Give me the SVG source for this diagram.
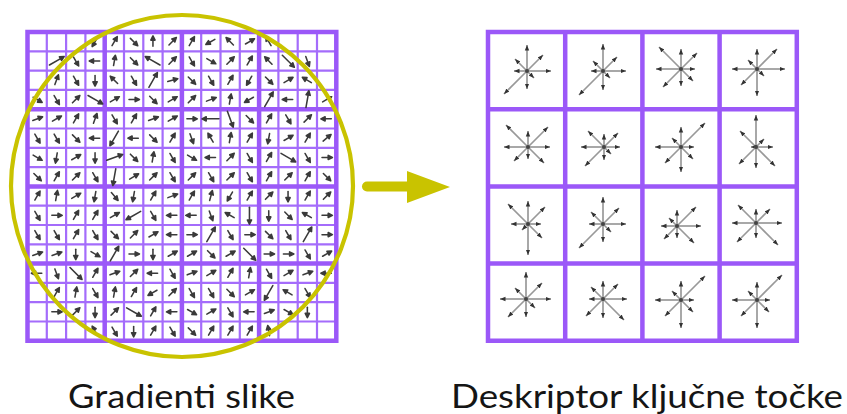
<svg xmlns="http://www.w3.org/2000/svg" xmlns:xlink="http://www.w3.org/1999/xlink" width="847" height="414" viewBox="0 0 847 414">
  <style>
    .thin { stroke: #a46cfb; stroke-width: 2.2; fill: none; }
    .thick { stroke: #9b58f8; stroke-width: 4.5; fill: none; stroke-linecap: square; }
    .gr { stroke: #3a3a3a; stroke-width: 0.08; fill: #3a3a3a; stroke-linecap: round; stroke-linejoin: round; }
    .star line { stroke: #999999; stroke-width: 1.7; marker-end: url(#tip); }
    .star circle { fill: #444; }
    .ring { fill: none; stroke: #c9c300; stroke-width: 4.2; }
    .label { font-family: Lato, "Open Sans", "Liberation Sans", sans-serif; font-size: 33px; fill: #151515; }
  </style>
  <defs>
    <!-- small gradient arrows, drawn in cell units (1 cell = 19.3 px) -->
    <g id="s"><path d="M-0.24,0H0.14"/><path d="M0.3,0L0.08,-0.11L0.08,0.11Z"/></g>
    <g id="l"><path d="M-0.42,0H0.3"/><path d="M0.46,0L0.24,-0.11L0.24,0.11Z"/></g>
    <marker id="tip" viewBox="0 0 10 10" refX="10" refY="5" markerWidth="5.5" markerHeight="5.5" markerUnits="userSpaceOnUse" orient="auto">
      <path d="M0,1L10,5L0,9Z" fill="#333"/>
    </marker>
  </defs>

  <!-- left: 16x16 grid of image gradients -->
  <g id="gradient-grid">
    <path class="thin" d="M46.8,32V340.8M66.1,32V340.8M85.4,32V340.8M124,32V340.8M143.3,32V340.8M162.6,32V340.8M201.2,32V340.8M220.5,32V340.8M239.8,32V340.8M278.4,32V340.8M297.7,32V340.8M317,32V340.8M27.5,51.3H336.3M27.5,70.6H336.3M27.5,89.9H336.3M27.5,128.5H336.3M27.5,147.8H336.3M27.5,167.1H336.3M27.5,205.7H336.3M27.5,225H336.3M27.5,244.3H336.3M27.5,282.9H336.3M27.5,302.2H336.3M27.5,321.5H336.3"/>
    <path class="thick" d="M27.5,32V340.8M104.7,32V340.8M181.9,32V340.8M259.1,32V340.8M336.3,32V340.8M27.5,32H336.3M27.5,109.2H336.3M27.5,186.4H336.3M27.5,263.6H336.3M27.5,340.8H336.3"/>
    <g class="gr" transform="translate(27.5,32) scale(19.3)">
      <use href="#s" transform="translate(3.5,0.5) rotate(120)"/><use href="#s" transform="translate(4.5,0.5) rotate(-60)"/><use href="#s" transform="translate(5.5,0.5) rotate(45)"/><use href="#s" transform="translate(6.5,0.5) rotate(-90)"/><use href="#s" transform="translate(7.5,0.5) rotate(-45)"/><use href="#s" transform="translate(8.5,0.5) rotate(-60)"/><use href="#s" transform="translate(9.5,0.5) rotate(150)"/><use href="#s" transform="translate(10.5,0.5) rotate(-135)"/><use href="#s" transform="translate(11.5,0.5) rotate(-30)"/><use href="#s" transform="translate(12.5,0.5) rotate(-120)"/>
      <use href="#l" transform="translate(1.5,1.5) rotate(-30)"/><use href="#s" transform="translate(2.5,1.5) rotate(60)"/><use href="#s" transform="translate(3.5,1.5) rotate(180)"/><use href="#s" transform="translate(4.5,1.5) rotate(-80)"/><use href="#s" transform="translate(5.5,1.5) rotate(45)"/><use href="#l" transform="translate(6.5,1.5) rotate(-150)"/><use href="#s" transform="translate(7.5,1.5) rotate(-45)"/><use href="#s" transform="translate(8.5,1.5) rotate(60)"/><use href="#s" transform="translate(9.5,1.5) rotate(30)"/><use href="#s" transform="translate(10.5,1.5) rotate(-45)"/><use href="#s" transform="translate(11.5,1.5) rotate(-60)"/><use href="#s" transform="translate(12.5,1.5) rotate(-135)"/><use href="#l" transform="translate(13.5,1.5) rotate(45)"/><use href="#s" transform="translate(14.5,1.5) rotate(70)"/>
      <use href="#s" transform="translate(1.5,2.5) rotate(-70)"/><use href="#s" transform="translate(2.5,2.5) rotate(60)"/><use href="#s" transform="translate(3.5,2.5) rotate(90)"/><use href="#s" transform="translate(4.5,2.5) rotate(-135)"/><use href="#s" transform="translate(5.5,2.5) rotate(60)"/><use href="#l" transform="translate(6.5,2.5) rotate(-60)"/><use href="#s" transform="translate(7.5,2.5) rotate(-15)"/><use href="#s" transform="translate(8.5,2.5) rotate(45)"/><use href="#s" transform="translate(9.5,2.5) rotate(60)"/><use href="#s" transform="translate(10.5,2.5) rotate(-60)"/><use href="#s" transform="translate(11.5,2.5) rotate(120)"/><use href="#s" transform="translate(12.5,2.5) rotate(45)"/><use href="#s" transform="translate(13.5,2.5) rotate(-30)"/><use href="#s" transform="translate(14.5,2.5) rotate(-150)"/>
      <use href="#s" transform="translate(0.5,3.5) rotate(30)"/><use href="#s" transform="translate(1.5,3.5) rotate(60)"/><use href="#s" transform="translate(2.5,3.5) rotate(-45)"/><use href="#l" transform="translate(3.5,3.5) rotate(30)"/><use href="#s" transform="translate(4.5,3.5) rotate(-30)"/><use href="#s" transform="translate(5.5,3.5) rotate(0)"/><use href="#s" transform="translate(6.5,3.5) rotate(45)"/><use href="#s" transform="translate(7.5,3.5) rotate(-30)"/><use href="#s" transform="translate(8.5,3.5) rotate(-45)"/><use href="#s" transform="translate(9.5,3.5) rotate(-20)"/><use href="#s" transform="translate(10.5,3.5) rotate(-80)"/><use href="#s" transform="translate(11.5,3.5) rotate(150)"/><use href="#l" transform="translate(12.5,3.5) rotate(-60)"/><use href="#s" transform="translate(13.5,3.5) rotate(180)"/><use href="#l" transform="translate(14.5,3.5) rotate(-80)"/><use href="#s" transform="translate(15.5,3.5) rotate(-30)"/>
      <use href="#s" transform="translate(0.5,4.5) rotate(-20)"/><use href="#s" transform="translate(1.5,4.5) rotate(-30)"/><use href="#s" transform="translate(2.5,4.5) rotate(-60)"/><use href="#s" transform="translate(3.5,4.5) rotate(-70)"/><use href="#s" transform="translate(4.5,4.5) rotate(60)"/><use href="#s" transform="translate(5.5,4.5) rotate(-60)"/><use href="#s" transform="translate(6.5,4.5) rotate(-20)"/><use href="#s" transform="translate(7.5,4.5) rotate(-30)"/><use href="#s" transform="translate(8.5,4.5) rotate(0)"/><use href="#l" transform="translate(9.5,4.5) rotate(180)"/><use href="#l" transform="translate(10.5,4.5) rotate(70)"/><use href="#s" transform="translate(11.5,4.5) rotate(45)"/><use href="#s" transform="translate(12.5,4.5) rotate(-60)"/><use href="#s" transform="translate(13.5,4.5) rotate(60)"/><use href="#s" transform="translate(14.5,4.5) rotate(-45)"/><use href="#s" transform="translate(15.5,4.5) rotate(180)"/>
      <use href="#s" transform="translate(0.5,5.5) rotate(60)"/><use href="#s" transform="translate(1.5,5.5) rotate(60)"/><use href="#s" transform="translate(2.5,5.5) rotate(45)"/><use href="#s" transform="translate(3.5,5.5) rotate(180)"/><use href="#l" transform="translate(4.5,5.5) rotate(120)"/><use href="#s" transform="translate(5.5,5.5) rotate(180)"/><use href="#s" transform="translate(6.5,5.5) rotate(45)"/><use href="#s" transform="translate(7.5,5.5) rotate(-60)"/><use href="#s" transform="translate(8.5,5.5) rotate(70)"/><use href="#s" transform="translate(9.5,5.5) rotate(-120)"/><use href="#s" transform="translate(10.5,5.5) rotate(-80)"/><use href="#s" transform="translate(11.5,5.5) rotate(-60)"/><use href="#s" transform="translate(12.5,5.5) rotate(100)"/><use href="#s" transform="translate(13.5,5.5) rotate(-30)"/><use href="#s" transform="translate(14.5,5.5) rotate(-60)"/><use href="#s" transform="translate(15.5,5.5) rotate(-40)"/>
      <use href="#s" transform="translate(0.5,6.5) rotate(30)"/><use href="#s" transform="translate(1.5,6.5) rotate(100)"/><use href="#s" transform="translate(2.5,6.5) rotate(-30)"/><use href="#s" transform="translate(3.5,6.5) rotate(90)"/><use href="#l" transform="translate(4.5,6.5) rotate(-20)"/><use href="#s" transform="translate(5.5,6.5) rotate(45)"/><use href="#s" transform="translate(6.5,6.5) rotate(-80)"/><use href="#s" transform="translate(7.5,6.5) rotate(60)"/><use href="#s" transform="translate(8.5,6.5) rotate(30)"/><use href="#s" transform="translate(9.5,6.5) rotate(180)"/><use href="#s" transform="translate(10.5,6.5) rotate(-45)"/><use href="#s" transform="translate(11.5,6.5) rotate(60)"/><use href="#s" transform="translate(12.5,6.5) rotate(-60)"/><use href="#l" transform="translate(13.5,6.5) rotate(30)"/><use href="#s" transform="translate(14.5,6.5) rotate(60)"/><use href="#s" transform="translate(15.5,6.5) rotate(0)"/>
      <use href="#s" transform="translate(0.5,7.5) rotate(45)"/><use href="#s" transform="translate(1.5,7.5) rotate(-60)"/><use href="#s" transform="translate(2.5,7.5) rotate(-45)"/><use href="#s" transform="translate(3.5,7.5) rotate(60)"/><use href="#l" transform="translate(4.5,7.5) rotate(100)"/><use href="#s" transform="translate(5.5,7.5) rotate(-30)"/><use href="#s" transform="translate(6.5,7.5) rotate(-45)"/><use href="#s" transform="translate(7.5,7.5) rotate(60)"/><use href="#s" transform="translate(8.5,7.5) rotate(-45)"/><use href="#s" transform="translate(9.5,7.5) rotate(60)"/><use href="#s" transform="translate(10.5,7.5) rotate(-45)"/><use href="#s" transform="translate(11.5,7.5) rotate(60)"/><use href="#s" transform="translate(12.5,7.5) rotate(-60)"/><use href="#s" transform="translate(13.5,7.5) rotate(-45)"/><use href="#s" transform="translate(14.5,7.5) rotate(-60)"/><use href="#s" transform="translate(15.5,7.5) rotate(45)"/>
      <use href="#s" transform="translate(0.5,8.5) rotate(-60)"/><use href="#s" transform="translate(1.5,8.5) rotate(-80)"/><use href="#s" transform="translate(2.5,8.5) rotate(-30)"/><use href="#s" transform="translate(3.5,8.5) rotate(100)"/><use href="#s" transform="translate(4.5,8.5) rotate(50)"/><use href="#s" transform="translate(5.5,8.5) rotate(100)"/><use href="#s" transform="translate(6.5,8.5) rotate(-60)"/><use href="#s" transform="translate(7.5,8.5) rotate(-20)"/><use href="#s" transform="translate(8.5,8.5) rotate(-60)"/><use href="#s" transform="translate(9.5,8.5) rotate(-75)"/><use href="#s" transform="translate(10.5,8.5) rotate(120)"/><use href="#s" transform="translate(11.5,8.5) rotate(-60)"/><use href="#s" transform="translate(12.5,8.5) rotate(-45)"/><use href="#s" transform="translate(13.5,8.5) rotate(90)"/><use href="#s" transform="translate(14.5,8.5) rotate(-60)"/><use href="#s" transform="translate(15.5,8.5) rotate(-45)"/>
      <use href="#s" transform="translate(0.5,9.5) rotate(60)"/><use href="#s" transform="translate(1.5,9.5) rotate(0)"/><use href="#s" transform="translate(2.5,9.5) rotate(-60)"/><use href="#s" transform="translate(3.5,9.5) rotate(-60)"/><use href="#s" transform="translate(4.5,9.5) rotate(-30)"/><use href="#l" transform="translate(5.5,9.5) rotate(150)"/><use href="#s" transform="translate(6.5,9.5) rotate(60)"/><use href="#s" transform="translate(7.5,9.5) rotate(180)"/><use href="#s" transform="translate(8.5,9.5) rotate(180)"/><use href="#s" transform="translate(9.5,9.5) rotate(70)"/><use href="#s" transform="translate(10.5,9.5) rotate(-150)"/><use href="#l" transform="translate(11.5,9.5) rotate(90)"/><use href="#s" transform="translate(12.5,9.5) rotate(90)"/><use href="#s" transform="translate(13.5,9.5) rotate(45)"/><use href="#s" transform="translate(14.5,9.5) rotate(-150)"/><use href="#s" transform="translate(15.5,9.5) rotate(0)"/>
      <use href="#s" transform="translate(0.5,10.5) rotate(60)"/><use href="#s" transform="translate(1.5,10.5) rotate(60)"/><use href="#s" transform="translate(2.5,10.5) rotate(-60)"/><use href="#s" transform="translate(3.5,10.5) rotate(60)"/><use href="#s" transform="translate(4.5,10.5) rotate(45)"/><use href="#s" transform="translate(5.5,10.5) rotate(-45)"/><use href="#s" transform="translate(6.5,10.5) rotate(-30)"/><use href="#s" transform="translate(7.5,10.5) rotate(180)"/><use href="#s" transform="translate(8.5,10.5) rotate(0)"/><use href="#l" transform="translate(9.5,10.5) rotate(-60)"/><use href="#s" transform="translate(10.5,10.5) rotate(60)"/><use href="#s" transform="translate(11.5,10.5) rotate(0)"/><use href="#s" transform="translate(12.5,10.5) rotate(45)"/><use href="#s" transform="translate(13.5,10.5) rotate(60)"/><use href="#l" transform="translate(14.5,10.5) rotate(-60)"/><use href="#s" transform="translate(15.5,10.5) rotate(0)"/>
      <use href="#s" transform="translate(0.5,11.5) rotate(-20)"/><use href="#s" transform="translate(1.5,11.5) rotate(-20)"/><use href="#s" transform="translate(2.5,11.5) rotate(90)"/><use href="#s" transform="translate(3.5,11.5) rotate(30)"/><use href="#l" transform="translate(4.5,11.5) rotate(-60)"/><use href="#s" transform="translate(5.5,11.5) rotate(0)"/><use href="#s" transform="translate(6.5,11.5) rotate(90)"/><use href="#s" transform="translate(7.5,11.5) rotate(-30)"/><use href="#s" transform="translate(8.5,11.5) rotate(-30)"/><use href="#s" transform="translate(9.5,11.5) rotate(45)"/><use href="#s" transform="translate(10.5,11.5) rotate(-30)"/><use href="#l" transform="translate(11.5,11.5) rotate(45)"/><use href="#s" transform="translate(12.5,11.5) rotate(0)"/><use href="#s" transform="translate(13.5,11.5) rotate(0)"/><use href="#s" transform="translate(14.5,11.5) rotate(60)"/><use href="#s" transform="translate(15.5,11.5) rotate(-30)"/>
      <use href="#s" transform="translate(0.5,12.5) rotate(180)"/><use href="#s" transform="translate(1.5,12.5) rotate(70)"/><use href="#l" transform="translate(2.5,12.5) rotate(45)"/><use href="#s" transform="translate(3.5,12.5) rotate(-60)"/><use href="#s" transform="translate(4.5,12.5) rotate(-20)"/><use href="#s" transform="translate(5.5,12.5) rotate(-45)"/><use href="#s" transform="translate(6.5,12.5) rotate(180)"/><use href="#s" transform="translate(7.5,12.5) rotate(60)"/><use href="#s" transform="translate(8.5,12.5) rotate(-20)"/><use href="#s" transform="translate(9.5,12.5) rotate(-30)"/><use href="#s" transform="translate(10.5,12.5) rotate(-60)"/><use href="#s" transform="translate(11.5,12.5) rotate(-80)"/><use href="#s" transform="translate(12.5,12.5) rotate(60)"/><use href="#s" transform="translate(13.5,12.5) rotate(-30)"/><use href="#s" transform="translate(14.5,12.5) rotate(-20)"/><use href="#s" transform="translate(15.5,12.5) rotate(180)"/>
      <use href="#s" transform="translate(1.5,13.5) rotate(-60)"/><use href="#s" transform="translate(2.5,13.5) rotate(-80)"/><use href="#s" transform="translate(3.5,13.5) rotate(60)"/><use href="#s" transform="translate(4.5,13.5) rotate(-80)"/><use href="#s" transform="translate(5.5,13.5) rotate(-60)"/><use href="#s" transform="translate(6.5,13.5) rotate(150)"/><use href="#s" transform="translate(7.5,13.5) rotate(-45)"/><use href="#s" transform="translate(8.5,13.5) rotate(60)"/><use href="#s" transform="translate(9.5,13.5) rotate(60)"/><use href="#s" transform="translate(10.5,13.5) rotate(45)"/><use href="#s" transform="translate(11.5,13.5) rotate(-30)"/><use href="#l" transform="translate(12.5,13.5) rotate(120)"/><use href="#s" transform="translate(13.5,13.5) rotate(-150)"/><use href="#s" transform="translate(14.5,13.5) rotate(60)"/>
      <use href="#s" transform="translate(1.5,14.5) rotate(0)"/><use href="#s" transform="translate(2.5,14.5) rotate(-45)"/><use href="#s" transform="translate(3.5,14.5) rotate(90)"/><use href="#s" transform="translate(4.5,14.5) rotate(-45)"/><use href="#l" transform="translate(5.5,14.5) rotate(30)"/><use href="#s" transform="translate(6.5,14.5) rotate(-60)"/><use href="#s" transform="translate(7.5,14.5) rotate(180)"/><use href="#s" transform="translate(8.5,14.5) rotate(30)"/><use href="#s" transform="translate(9.5,14.5) rotate(-30)"/><use href="#s" transform="translate(10.5,14.5) rotate(60)"/><use href="#s" transform="translate(11.5,14.5) rotate(180)"/><use href="#s" transform="translate(12.5,14.5) rotate(-20)"/><use href="#s" transform="translate(13.5,14.5) rotate(30)"/><use href="#s" transform="translate(14.5,14.5) rotate(90)"/>
      <use href="#s" transform="translate(3.5,15.5) rotate(-120)"/><use href="#s" transform="translate(4.5,15.5) rotate(60)"/><use href="#s" transform="translate(5.5,15.5) rotate(90)"/><use href="#s" transform="translate(6.5,15.5) rotate(-60)"/><use href="#s" transform="translate(7.5,15.5) rotate(60)"/><use href="#s" transform="translate(8.5,15.5) rotate(45)"/><use href="#s" transform="translate(9.5,15.5) rotate(-60)"/><use href="#s" transform="translate(10.5,15.5) rotate(-60)"/><use href="#s" transform="translate(11.5,15.5) rotate(-60)"/><use href="#s" transform="translate(12.5,15.5) rotate(-100)"/>
    </g>
  </g>

  <!-- Gaussian window over the gradient grid -->
  <g id="window">
    <circle class="ring" cx="182" cy="186" r="171"/>
  </g>

  <!-- connector between the two panels -->
  <g id="connectors">
    <line x1="367" y1="186.5" x2="410" y2="186.5" stroke="#c9c300" stroke-width="10" stroke-linecap="round"/>
    <path d="M407,171L450,187L407,203Z" fill="#c9c300"/>
  </g>

  <!-- right: 4x4 keypoint descriptor histograms -->
  <g id="descriptor-grid">
    <path class="thick" d="M488,32V340.8M565.2,32V340.8M642.4,32V340.8M719.6,32V340.8M796.8,32V340.8M488,32H796.8M488,109.2H796.8M488,186.4H796.8M488,263.6H796.8M488,340.8H796.8"/>
    <g class="star">
      <g transform="translate(527,71)"><line x2="24"/><line x2="16" y2="-16"/><line y2="-26"/><line x2="-12" y2="-12"/><line x2="-13"/><line x2="-23" y2="23"/><line y2="18"/><line x2="7" y2="7"/><circle r="2"/></g>
      <g transform="translate(603,71)"><line x2="23"/><line x2="14" y2="-14"/><line y2="-27"/><line x2="-10" y2="-10"/><line x2="-12"/><line x2="-24" y2="24"/><line y2="19"/><line x2="7" y2="7"/><circle r="2"/></g>
      <g transform="translate(681,69)"><line x2="14"/><line x2="16" y2="-16"/><line y2="-20"/><line x2="-22" y2="-22"/><line x2="-25"/><line x2="-18" y2="18"/><line y2="17"/><line x2="12" y2="12"/><circle r="2"/></g>
      <g transform="translate(757,69)"><line x2="28"/><line x2="20" y2="-20"/><line y2="-20"/><line x2="-9" y2="-9"/><line x2="-25"/><line x2="-16" y2="16"/><line y2="27"/><line x2="7" y2="7"/><circle r="2"/></g>
      <g transform="translate(528,147)"><line x2="22"/><line x2="20" y2="-20"/><line y2="-16"/><line x2="-22" y2="-22"/><line x2="-24"/><line x2="-14" y2="14"/><line y2="12"/><line x2="16" y2="16"/><circle r="2"/></g>
      <g transform="translate(604,147)"><line x2="16"/><line x2="14" y2="-14"/><line y2="-13"/><line x2="-16" y2="-16"/><line x2="-23"/><line x2="-19" y2="19"/><line y2="13"/><line x2="7" y2="7"/><circle r="2"/></g>
      <g transform="translate(681,147)"><line x2="13"/><line x2="24" y2="-24"/><line y2="-20"/><line x2="-9" y2="-9"/><line x2="-26"/><line x2="-16" y2="16"/><line y2="25"/><line x2="12" y2="12"/><circle r="2"/></g>
      <g transform="translate(756,147)"><line x2="17"/><line x2="8" y2="-8"/><line y2="-32"/><line x2="-16" y2="-16"/><line x2="-5"/><line x2="-17" y2="17"/><line y2="21"/><line x2="19" y2="19"/><circle r="2"/></g>
      <g transform="translate(528,224)"><line x2="13"/><line x2="17" y2="-17"/><line y2="-23"/><line x2="-20" y2="-20"/><line x2="-17"/><line x2="-6" y2="6"/><line y2="31"/><line x2="14" y2="14"/><circle r="2"/></g>
      <g transform="translate(603,224)"><line x2="23"/><line x2="16" y2="-16"/><line y2="-27"/><line x2="-12" y2="-12"/><line x2="-14"/><line x2="-24" y2="24"/><line y2="18"/><line x2="8" y2="8"/><circle r="2"/></g>
      <g transform="translate(677,226)"><line x2="24"/><line x2="19" y2="-19"/><line y2="-16"/><line x2="-8" y2="-8"/><line x2="-16"/><line x2="-13" y2="13"/><line y2="12"/><line x2="17" y2="17"/><circle r="2"/></g>
      <g transform="translate(756,223)"><line x2="26"/><line x2="14" y2="-14"/><line y2="-14"/><line x2="-18" y2="-18"/><line x2="-24"/><line x2="-19" y2="19"/><line y2="15"/><line x2="22" y2="22"/><circle r="2"/></g>
      <g transform="translate(526,299)"><line x2="25"/><line x2="16" y2="-16"/><line y2="-27"/><line x2="-11" y2="-11"/><line x2="-26"/><line x2="-18" y2="18"/><line y2="18"/><line x2="9" y2="9"/><circle r="2"/></g>
      <g transform="translate(603,299)"><line x2="24"/><line x2="15" y2="-15"/><line y2="-18"/><line x2="-12" y2="-12"/><line x2="-14"/><line x2="-17" y2="17"/><line y2="19"/><line x2="21" y2="21"/><circle r="2"/></g>
      <g transform="translate(681,300)"><line x2="13"/><line x2="24" y2="-24"/><line y2="-19"/><line x2="-9" y2="-9"/><line x2="-26"/><line x2="-16" y2="16"/><line y2="28"/><line x2="12" y2="12"/><circle r="2"/></g>
      <g transform="translate(757,300)"><line x2="13"/><line x2="25" y2="-25"/><line y2="-18"/><line x2="-9" y2="-9"/><line x2="-25"/><line x2="-16" y2="16"/><line y2="28"/><line x2="12" y2="12"/><circle r="2"/></g>
    </g>
  </g>

  <!-- captions -->
  <g id="captions">
    <text class="label" x="68" y="408" textLength="227" lengthAdjust="spacingAndGlyphs">Gradienti slike</text>
    <text class="label" x="451" y="408" textLength="392" lengthAdjust="spacingAndGlyphs">Deskriptor ključne točke</text>
  </g>
</svg>
